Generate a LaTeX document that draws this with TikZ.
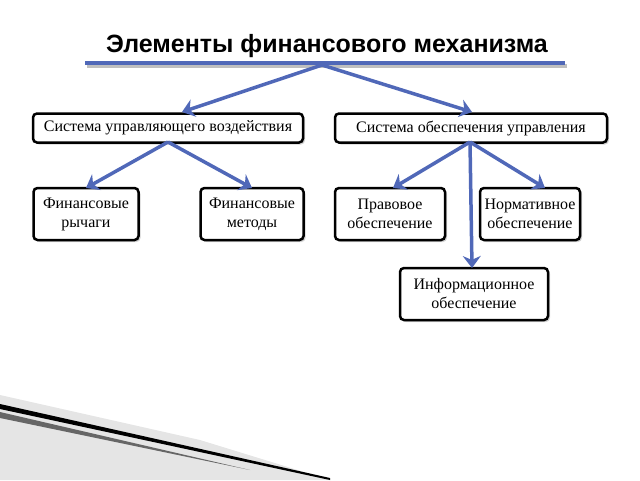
\documentclass[tikz,border=0pt]{standalone}
\usepackage{fontspec}
\setmainfont{Liberation Serif}
\newfontfamily\titlefont{Liberation Sans}
\usetikzlibrary{arrows.meta,shadows}
\definecolor{arr}{HTML}{5068B8}
\tikzset{
 box/.style={draw=black,line width=2.5pt,rounded corners=4pt,fill=white,align=center,font=\fontsize{16}{19}\selectfont,inner sep=2pt,drop shadow={shadow xshift=2pt,shadow yshift=-2pt,opacity=0.35}},
 link/.style={draw=arr,line width=3.5pt,-{Stealth[length=12pt,width=18pt]}},
}
\begin{document}
\begin{tikzpicture}[x=1pt,y=-1pt]
\useasboundingbox (0,0) rectangle (640,480);
\node[font=\titlefont\bfseries\fontsize{25}{28}\selectfont] (title) at (327,46) {Элементы финансового механизма};
\draw[gray!50,line width=4pt] (87,66) -- (567,66);
\draw[arr,line width=4pt] (85,63) -- (565,63);
\coordinate (hub) at (322,65);
\node[box,minimum width=270pt,minimum height=29pt] (s1) at (168,128) {Система управляющего воздействия};
\node[box,minimum width=272pt,minimum height=29pt] (s2) at (471,128) {Система обеспечения управления};
\node[box,minimum width=105pt,minimum height=52pt] (a1) at (86,214) {Финансовые\\рычаги};
\node[box,minimum width=103pt,minimum height=52pt] (a2) at (252,214) {Финансовые\\методы};
\node[box,minimum width=110pt,minimum height=52pt] (b1) at (390,214) {Правовое\\обеспечение};
\node[box,minimum width=100pt,minimum height=52pt] (b2) at (530,214) {Нормативное\\обеспечение};
\node[box,minimum width=148pt,minimum height=52pt] (b3) at (474,294) {Информационное\\обеспечение};
\draw[link] (hub) -- (182,112);
\draw[link] (hub) -- (472,112);
\coordinate (h1) at (168,142);
\coordinate (h2) at (470,142);
\draw[link] (h1) -- (86,188);
\draw[link] (h1) -- (252,188);
\draw[link] (h2) -- (393,188);
\draw[link] (h2) -- (545,188);
\draw[link] (h2) -- (472,268);
\fill[gray!20] (0,395) -- (200,440) -- (330,480) -- (0,480) -- cycle;
\fill[black] (0,404) -- (330,478) -- (330,480) -- (0,409) -- cycle;
\fill[black!60] (0,412) -- (250,470) -- (0,418) -- cycle;
\end{tikzpicture}
\end{document}
